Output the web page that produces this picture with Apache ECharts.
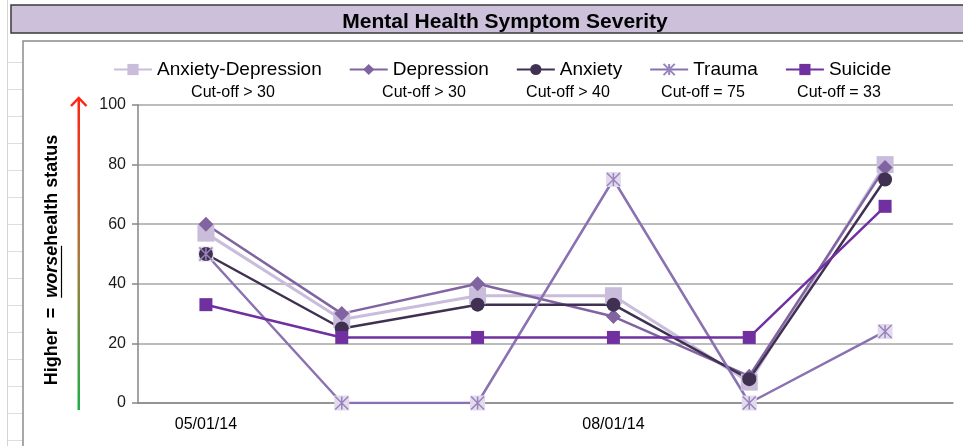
<!DOCTYPE html>
<html>
<head>
<meta charset="utf-8">
<script src="https://cdn.jsdelivr.net/npm/echarts@6/dist/echarts.min.js"></script>
<style>
  html, body { margin: 0; padding: 0; background: #fff; }
  #chart { width: 963px; height: 446px; }
</style>
</head>
<body>
<div id="chart"></div>
<script>
// data
const categories = ['05/01/14', '06/01/14', '07/01/14', '08/01/14', '09/01/14', '10/01/14'];
const anxDep = [57, 28, 36, 36, 7, 80];
const depression = [60, 30, 40, 29, 9, 79];
const anxiety = [50, 25, 33, 33, 8, 75];
const trauma = [50, 0, 0, 75, 0, 24];
const suicide = [33, 22, 22, 22, 22, 66];
const cutoffs = ['Cut-off > 30', 'Cut-off > 30', 'Cut-off > 40', 'Cut-off = 75', 'Cut-off = 33'];

const font = 'Liberation Sans, Arial, sans-serif';
const cutoffX = [233, 424, 568, 703, 839]; // under each legend item
const starPath = 'path://M0,0L10,10M10,0L0,10M5,0L5,10';

// y title pieces, measured so the underline sits under "worse"
const yTitle = ['Higher  =  ', 'worse', 'health status'];
const yFs = 18, yCx = 52, yCy = 260;
const ctx = document.createElement('canvas').getContext('2d');
ctx.font = 'bold ' + yFs + 'px ' + font;
const w0 = ctx.measureText(yTitle[0]).width;
const w2 = ctx.measureText(yTitle[2]).width;
ctx.font = 'italic bold ' + yFs + 'px ' + font;
const w1 = ctx.measureText(yTitle[1]).width;
const yStart = yCy + (w0 + w1 + w2) / 2;

const chart = echarts.init(document.getElementById('chart'));

// spreadsheet background + decorations
const graphic = [
  { type: 'line', shape: { x1: 7.5, y1: 0, x2: 7.5, y2: 446 }, style: { stroke: '#d4d4d4', lineWidth: 1 }, z: -10 },
  { type: 'rect', shape: { x: 23, y: 41, width: 950, height: 420 }, style: { fill: '#fff', stroke: '#8c8c8c', lineWidth: 1.5 }, z: -9 },
  { type: 'rect', shape: { x: 11, y: 5, width: 960, height: 28 }, style: { fill: '#ccc0da', stroke: '#3a3a3a', lineWidth: 1.5 }, z: -9 },
  // severity arrow
  {
    type: 'rect', shape: { x: 77.5, y: 100, width: 2.5, height: 310 },
    style: {
      fill: new echarts.graphic.LinearGradient(0, 1, 0, 0, [
        { offset: 0, color: '#1fae4b' },
        { offset: 0.5, color: '#a97a3a' },
        { offset: 1, color: '#ff2412' }
      ])
    }
  },
  { type: 'polyline', shape: { points: [[71, 106], [78.7, 98], [86.5, 106]] }, style: { stroke: '#ff2412', lineWidth: 2.5, fill: null } },
  // y axis title
  {
    type: 'text', x: yCx, y: yCy, rotation: Math.PI / 2,
    style: {
      text: '{b|' + yTitle[0] + '}{w|' + yTitle[1] + '}{b|' + yTitle[2] + '}',
      align: 'center', verticalAlign: 'middle',
      rich: {
        b: { fontFamily: font, fontWeight: 'bold', fontSize: yFs, fill: '#000' },
        w: { fontFamily: font, fontWeight: 'bold', fontStyle: 'italic', fontSize: yFs, fill: '#000' }
      }
    }
  },
  { type: 'line', shape: { x1: 61.5, y1: yStart - w0, x2: 61.5, y2: yStart - w0 - w1 }, style: { stroke: '#000', lineWidth: 1.2 } }
];
// grid lines in left strip
for (let y = 62; y < 446; y += 27) {
  graphic.push({ type: 'line', shape: { x1: 8, y1: y + 0.5, x2: 23, y2: y + 0.5 }, style: { stroke: '#dedede', lineWidth: 1 }, z: -10 });
}
cutoffs.forEach((t, i) => {
  graphic.push({
    type: 'text', x: cutoffX[i], y: 93,
    style: { text: t, align: 'center', verticalAlign: 'middle', fontFamily: font, fontSize: 16, fill: '#000' }
  });
});

const lineSeries = (name, data, color, symbol, size, width) => ({
  name: name,
  type: 'line',
  data: data,
  symbol: symbol,
  symbolSize: size,
  showAllSymbol: true,
  lineStyle: { color: color, width: width },
  itemStyle: { color: color }
});

const option = {
  animation: false,
  backgroundColor: '#fff',
  title: {
    text: 'Mental Health Symptom Severity',
    left: 500, top: 7, textAlign: 'center',
    textStyle: { fontFamily: font, fontWeight: 'bold', fontSize: 21, color: '#000' }
  },
  legend: {
    data: ['Anxiety-Depression', 'Depression', 'Anxiety', 'Trauma', 'Suicide'],
    left: 108, top: 55,
    itemWidth: 38, itemHeight: 14, itemGap: 27,
    textStyle: { fontFamily: font, fontSize: 19, color: '#000' }
  },
  grid: { left: 138, right: 10, top: 105, bottom: 43 },
  xAxis: {
    type: 'category',
    data: categories,
    boundaryGap: true,
    axisLine: { lineStyle: { color: '#868686', width: 1.5 } },
    axisTick: { interval: 2, length: 6, lineStyle: { color: '#868686', width: 1.5 } },
    axisLabel: { interval: 2, margin: 14, fontFamily: font, fontSize: 16, color: '#000' }
  },
  yAxis: {
    type: 'value',
    min: 0, max: 100, interval: 20,
    axisLine: { show: true, lineStyle: { color: '#868686', width: 1.5 } },
    axisTick: { show: true, length: 6, lineStyle: { color: '#868686', width: 1.5 } },
    axisLabel: { margin: 12, fontFamily: font, fontSize: 16, color: '#1a1a1a' },
    splitLine: { lineStyle: { color: '#a6a6a6', width: 1.5 } }
  },
  graphic: graphic,
  series: [
    {
      name: 'TraumaBg', type: 'line', data: trauma, silent: true,
      symbol: 'rect', symbolSize: 15, showAllSymbol: true,
      lineStyle: { width: 0, opacity: 0 },
      itemStyle: { color: '#e3dbed' }
    },
    lineSeries('Anxiety-Depression', anxDep, '#c9bddb', 'rect', 17, 3),
    lineSeries('Depression', depression, '#8064a2', 'diamond', 15, 2.5),
    lineSeries('Anxiety', anxiety, '#403152', 'circle', 14, 2.5),
    {
      name: 'Trauma', type: 'line', data: trauma,
      symbol: starPath, symbolSize: 13, showAllSymbol: true,
      lineStyle: { color: '#8a72b2', width: 2.5 },
      itemStyle: { color: '#8a72b2', borderColor: '#9884bd', borderWidth: 1.5 }
    },
    lineSeries('Suicide', suicide, '#7030a0', 'rect', 13, 2.5)
  ]
};

chart.setOption(option);
</script>
</body>
</html>
